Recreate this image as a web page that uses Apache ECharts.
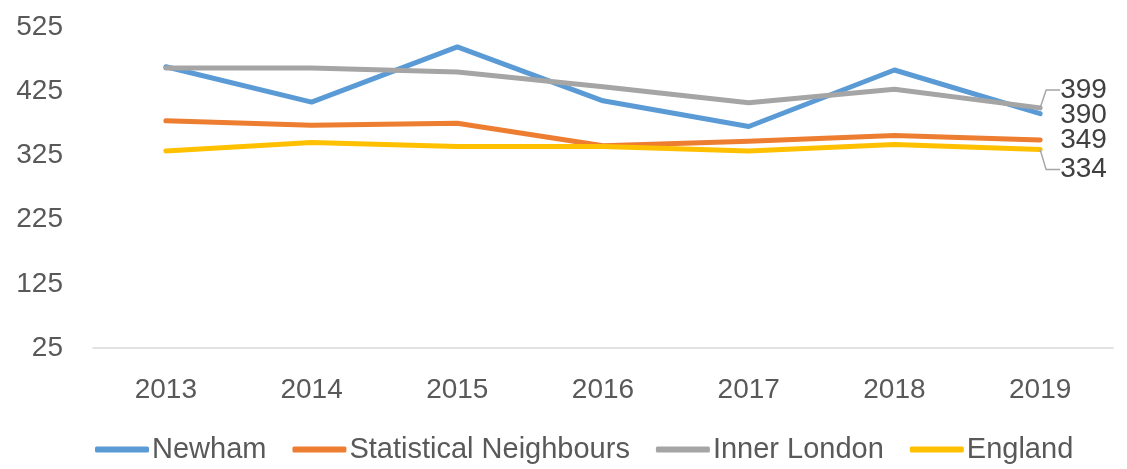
<!DOCTYPE html>
<html>
<head>
<meta charset="utf-8">
<script src="https://cdn.jsdelivr.net/npm/echarts@6/dist/echarts.min.js"></script>
<style>html,body{margin:0;padding:0;background:#fff}#c{width:1127px;height:469px}</style>
</head>
<body>
<div id="c"></div>
<script>
const years = ['2013', '2014', '2015', '2016', '2017', '2018', '2019'];
const newham = [463, 408, 494, 410, 370, 458, 390];
const statNeighbours = [379, 372, 375, 340, 347, 356, 349];
const innerLondon = [461, 461, 455, 432, 407, 428, 399];
const england = [332, 345, 339, 339, 332, 342, 334];
const seriesNames = ['Newham', 'Statistical Neighbours', 'Inner London', 'England'];
const yTicks = [25, 125, 225, 325, 425, 525];

const colors = ['#5B9BD5', '#ED7D31', '#A5A5A5', '#FFC000'];
const FONT = 'Liberation Sans';
const labelDy = [2, 0, -18, 20];

function makeSeries(name, data, idx) {
  return {
    name: name,
    type: 'line',
    data: data.map((v, i) => i === data.length - 1 ? {
      value: v,
      label: {
        show: true, position: 'right', distance: 20,
        color: '#404040', fontSize: 28, fontFamily: FONT
      }
    } : v),
    symbol: 'circle',
    symbolSize: 0.01,
    showSymbol: true,
    lineStyle: { width: 5, color: colors[idx], cap: 'round', join: 'round' },
    itemStyle: { color: colors[idx] },
    label: { show: false },
    labelLine: { show: labelDy[idx] < -5 || labelDy[idx] > 5, lineStyle: { color: '#A5A5A5', width: 1.5 }, smooth: false, length2: 14 },
    labelLayout: { dy: labelDy[idx] },
    emphasis: { disabled: true },
    animation: false,
    z: 2 + (idx === 2 ? 1 : 0)
  };
}

const chart = echarts.init(document.getElementById('c'), null, { renderer: 'canvas' });
chart.setOption({
  animation: false,
  color: colors,
  grid: { left: 93, right: 14, top: 27, bottom: 121, containLabel: false },
  legend: {
    data: seriesNames,
    bottom: 0,
    left: 90,
    itemWidth: 54,
    itemHeight: 6,
    itemGap: 26,
    icon: 'roundRect',
    textStyle: { color: '#595959', fontSize: 29, fontFamily: FONT, padding: [0, 0, 0, -2] }
  },
  xAxis: {
    type: 'category',
    data: years,
    boundaryGap: true,
    axisLine: { show: true, lineStyle: { color: '#D9D9D9', width: 1.5 } },
    axisTick: { show: false },
    axisLabel: { color: '#595959', fontSize: 28, fontFamily: FONT, margin: 28 }
  },
  yAxis: {
    type: 'value',
    min: yTicks[0],
    max: yTicks[yTicks.length - 1],
    interval: 100,
    axisLine: { show: false },
    axisTick: { show: false },
    splitLine: { show: false },
    axisLabel: { color: '#595959', fontSize: 28, fontFamily: FONT, margin: 30 }
  },
  series: [
    makeSeries(seriesNames[0], newham, 0),
    makeSeries(seriesNames[1], statNeighbours, 1),
    makeSeries(seriesNames[2], innerLondon, 2),
    makeSeries(seriesNames[3], england, 3)
  ]
});
</script>
</body>
</html>
